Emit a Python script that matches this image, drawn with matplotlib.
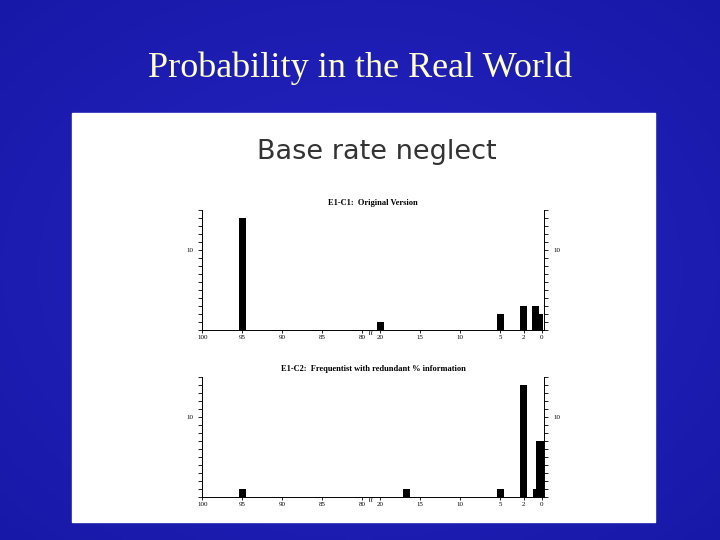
import numpy as np
import matplotlib.pyplot as plt

# tick labels and their positions on a broken axis (100..80 | 20..0)
tick_labels = ['100', '95', '90', '85', '80', '20', '15', '10', '5', '2', '0']
tick_pos = [0, 1, 2, 3, 4, 4.45, 5.45, 6.45, 7.45, 8.03, 8.48]

# top panel: original version
top_pos = [1, 4.45, 7.45, 8.03, 8.33, 8.43]
top_vals = [14, 1, 2, 3, 3, 2]
# bottom panel: frequentist
bot_pos = [1, 5.1, 7.45, 8.03, 8.36, 8.44]
bot_vals = [1, 1, 1, 14, 1, 7]

fig = plt.figure(figsize=(7.2, 5.4), dpi=100)

# blue slide background
bg = fig.add_axes([0, 0, 1, 1])
yy, xx = np.mgrid[-1:1:200j, -1:1:200j]
grad = np.sqrt(xx**2 + yy**2)
bg.imshow(grad, cmap=plt.matplotlib.colors.LinearSegmentedColormap.from_list(
    'b', ['#2626c4', '#1818a8']), extent=[0, 1, 0, 1], aspect='auto', vmin=0, vmax=1.4)
bg.set_xlim(0, 1); bg.set_ylim(0, 1)
bg.axis('off')
bg.text(0.5, 1 - 68 / 540, 'Probability in the Real World', ha='center', va='center',
        fontsize=26, color='#ffffcc', family='Liberation Serif')
bg.add_patch(plt.Rectangle((72 / 720, 1 - 522 / 540), (655 - 72) / 720, (522 - 113) / 540,
                           color='white', zorder=2))
bg.text(377 / 720, 1 - 152 / 540, 'Base rate neglect', ha='center', va='center',
        fontsize=19.5, color='#333333', zorder=3)


def panel(rect, pos, vals, title):
    ax = fig.add_axes(rect)
    ax.bar(pos, vals, width=0.18, color='black')
    ax.set_xlim(0, 8.55)
    ax.set_ylim(0, 15)
    ax.set_xticks(tick_pos)
    ax.set_xticklabels(tick_labels, fontsize=5, family='Liberation Serif')
    ax.set_yticks([10])
    ax.set_yticks(range(0, 16), minor=True)
    ax.set_yticklabels(['10'], fontsize=5, family='Liberation Serif')
    ax.tick_params(axis='y', right=True, labelright=True, length=3, which='both', width=0.6)
    ax.tick_params(axis='x', length=2, width=0.6, pad=2)
    ax.spines['top'].set_visible(False)
    for s in ['left', 'right', 'bottom']:
        ax.spines[s].set_linewidth(0.7)
    ax.text(4.2, -0.3, '≀≀', fontsize=6, ha='center', va='center', clip_on=False)
    ax.set_title(title, fontsize=6, fontweight='bold', family='Liberation Serif', pad=4)
    return ax


panel([0.281, 0.389, 0.475, 0.222], top_pos, top_vals, 'E1-C1:  Original Version')
panel([0.281, 0.080, 0.475, 0.222], bot_pos, bot_vals, 'E1-C2:  Frequentist with redundant % information')

fig.savefig('out.png', dpi=100)
